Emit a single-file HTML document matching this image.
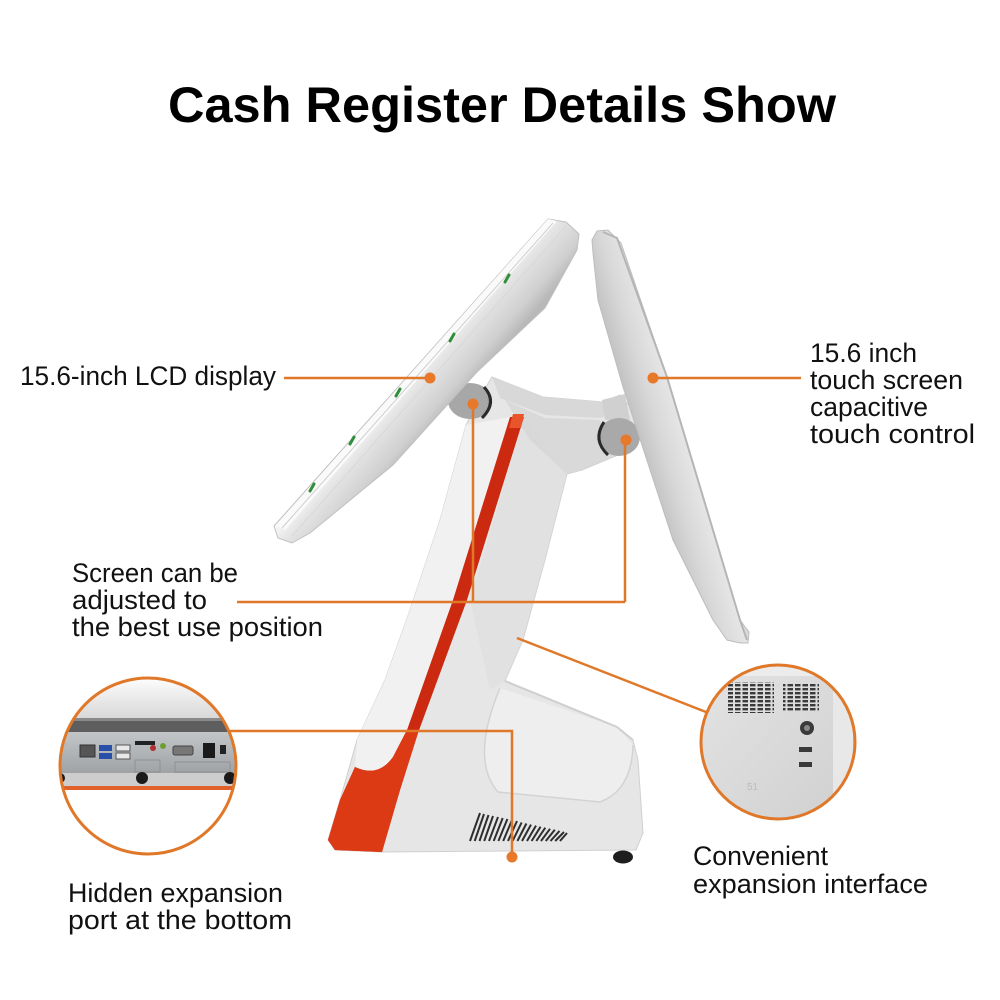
<!DOCTYPE html>
<html><head><meta charset="utf-8"><style>
html,body{margin:0;padding:0;background:#fff;}
svg{display:block;}
text{font-family:"Liberation Sans","DejaVu Sans",sans-serif;fill:#111;}
</style></head><body>
<svg width="1000" height="1000" viewBox="0 0 1000 1000" xmlns="http://www.w3.org/2000/svg">
<defs>
<linearGradient id="gls" gradientUnits="userSpaceOnUse" x1="412" y1="368" x2="455" y2="405">
<stop offset="0" stop-color="#f7f7f7"/><stop offset="0.3" stop-color="#e4e4e4"/><stop offset="0.75" stop-color="#d0d0d0"/><stop offset="1" stop-color="#b8b8b8"/></linearGradient>
<linearGradient id="grs" gradientUnits="userSpaceOnUse" x1="640" y1="440" x2="690" y2="425">
<stop offset="0" stop-color="#c4c4c4"/><stop offset="0.4" stop-color="#d8d8d8"/><stop offset="0.85" stop-color="#e6e6e6"/><stop offset="1" stop-color="#c2c2c2"/></linearGradient>
<linearGradient id="gtop" x1="0" y1="0" x2="0" y2="1"><stop offset="0" stop-color="#ffffff"/><stop offset="1" stop-color="#d6d6d6"/></linearGradient>
<linearGradient id="gpanel" x1="0" y1="0" x2="0" y2="1"><stop offset="0" stop-color="#c3c6c8"/><stop offset="1" stop-color="#9ea2a5"/></linearGradient>
<linearGradient id="gright" x1="0" y1="0" x2="1" y2="1"><stop offset="0" stop-color="#e4e4e4"/><stop offset="1" stop-color="#cfcfcf"/></linearGradient>
<clipPath id="cl"><circle cx="148" cy="766" r="88"/></clipPath>
<clipPath id="cr"><circle cx="778" cy="742" r="77"/></clipPath>
<pattern id="vent" width="7.5" height="4" patternUnits="userSpaceOnUse"><rect x="0" y="0" width="5.5" height="2.4" fill="#3a3a3a"/></pattern>
</defs>

<!-- Title -->
<text x="168" y="122" font-size="50" font-weight="bold" textLength="668" lengthAdjust="spacingAndGlyphs" style="fill:#000">Cash Register Details Show</text>

<!-- ===== Device ===== -->
<path d="M492,377 L543,397 L603,402 L620,395 L640,418 L618,455 L582,470 L567,474 L545,560 L523,640 L505,681 L617,727 L633,740 L638,760 L643,833 L636,850 L382,852 L335,850 L328,840 L340,800 L357,740 L385,680 L410,610 L440,520 L466,425 L478,400 Z" fill="#e6e6e6" stroke="#d0d0d0" stroke-width="1"/>
<path d="M466,425 L510,417 L453,600 L407,730 L393,757 Q378,778 355,767 L357,740 L385,680 L410,610 L440,520 Z" fill="#f1f1f1"/>
<path d="M524,417 L567,474 L545,560 L523,640 L505,681 L490,690 L470,600 Z" fill="#dedede" opacity="0.6"/>
<path d="M500,688 Q470,760 498,792 L600,802 Q632,790 633,745 L617,727 Z" fill="#eeeeee"/>
<path d="M500,688 Q470,760 498,792 L600,802 Q632,790 633,745" fill="none" stroke="#d3d3d3" stroke-width="1.5"/>
<path d="M505,681 L617,727 L633,740" fill="none" stroke="#cfcfcf" stroke-width="2"/>
<path d="M492,377 L543,397 L603,402 L620,395 L625,410 L600,418 L545,415 L500,398 Z" fill="#d8d8d8"/>
<path d="M505,400 L545,418 L600,420 L615,455 L582,470 L567,474 L530,440 Z" fill="#d6d6d6" opacity="0.8"/>

<!-- red stripe + bottom red -->
<path d="M510,417 L524,417 L467,600 L418,733 L400,790 L382,852 L335,850 L328,840 L340,800 L355,767 Q378,778 393,757 L407,730 L453,600 Z" fill="#cc2a10"/>
<path d="M513,414 L524,414 L521,428 L509,428 Z" fill="#e8552a"/>
<path d="M382,852 L335,850 L328,840 L340,800 L355,767 Q378,778 393,757 L407,730 L418,733 L400,790 Z" fill="#dc3a15"/>

<!-- vent -->
<g stroke="#2e2e2e" stroke-width="2">
<line x1="470" y1="841" x2="480" y2="813"/><line x1="474.7" y1="841" x2="484" y2="814"/>
<line x1="479.5" y1="841" x2="488.5" y2="815"/><line x1="484.2" y1="841" x2="493" y2="816"/>
<line x1="489" y1="841" x2="498" y2="817"/><line x1="493.7" y1="841" x2="502.7" y2="818"/>
<line x1="498.4" y1="841" x2="507.4" y2="819"/><line x1="503.2" y1="841" x2="512" y2="820"/>
<line x1="508" y1="841" x2="517" y2="821"/><line x1="512.6" y1="841" x2="521.6" y2="822.5"/>
<line x1="517.4" y1="841" x2="526.4" y2="823.5"/><line x1="522" y1="841" x2="531" y2="824.6"/>
<line x1="527" y1="841" x2="536" y2="825.6"/><line x1="531.6" y1="841" x2="540.6" y2="826.7"/>
<line x1="536.3" y1="841" x2="545.3" y2="827.7"/><line x1="541" y1="841" x2="550" y2="828.8"/>
<line x1="545.8" y1="841" x2="554.8" y2="829.8"/><line x1="550.5" y1="841" x2="559.5" y2="830.9"/>
<line x1="555.2" y1="841" x2="564" y2="832"/><line x1="560" y1="841" x2="567" y2="833"/>
</g>
<ellipse cx="623" cy="857" rx="10" ry="6.5" fill="#1e1e1e"/>

<!-- hinges -->
<ellipse cx="470" cy="401" rx="22" ry="18" fill="#a7a7a7"/>
<path d="M484,387 Q498,402 482,418" fill="none" stroke="#2a2a2a" stroke-width="3"/>
<path d="M602,400 L625,394 L630,420 L605,420 Z" fill="#d0d0d0"/>
<ellipse cx="619" cy="437" rx="21" ry="19" fill="#a9a9a9"/>
<path d="M604,422 Q592,440 608,455" fill="none" stroke="#2a2a2a" stroke-width="3"/>

<!-- left screen -->
<path d="M548,219 L566,222 L579,234 L577,250 L545,308 L477,372 L393,465 L310,533 L292,543 L278,538 L274,526 Z" fill="url(#gls)" stroke="#c0c0c0" stroke-width="1"/>
<path d="M548,219 L557,221 L285,530 L276,525 Z" fill="#fafafa"/>
<line x1="553" y1="223" x2="282" y2="528" stroke="#cfcfcf" stroke-width="1"/>
<line x1="566" y1="226" x2="292" y2="536" stroke="#d8d8d8" stroke-width="1"/>
<g stroke="#2f8f3a" stroke-width="3" stroke-linecap="round">
<line x1="505" y1="282" x2="509" y2="275"/>
<line x1="450" y1="341" x2="454" y2="334"/>
<line x1="396" y1="396" x2="400" y2="389"/>
<line x1="350" y1="444" x2="354" y2="437"/>
<line x1="310" y1="491" x2="314" y2="484"/>
</g>

<!-- right screen -->
<path d="M592,240 L597,231 L608,230 L621,243 L667,377 L740,620 L749,632 L748,643 L740,643 L727,640 L713,620 L673,540 L623,387 L598,300 L593,253 Z" fill="url(#grs)" stroke="#bdbdbd" stroke-width="1"/>
<path d="M603,232 L617,238 L667,377 L740,620 L747,640" fill="none" stroke="#b5b5b5" stroke-width="2"/>

<!-- ===== connectors ===== -->
<g stroke="#e0782a" stroke-width="2.5" fill="none">
<line x1="284" y1="378" x2="430" y2="378"/>
<line x1="653" y1="378" x2="801" y2="378"/>
<polyline points="237,602 625,602"/>
<line x1="473" y1="403" x2="473" y2="602"/>
<line x1="625" y1="440" x2="625" y2="602"/>
<polyline points="230,731 512,731 512,857"/>
<line x1="517" y1="638" x2="706" y2="712"/>
</g>
<g fill="#e8782a">
<circle cx="430" cy="378" r="5.5"/>
<circle cx="653" cy="378" r="5.5"/>
<circle cx="473" cy="404" r="5.5"/>
<circle cx="626" cy="440" r="5.5"/>
<circle cx="512" cy="857" r="5.5"/>
</g>

<!-- ===== left inset ===== -->
<g clip-path="url(#cl)">
<rect x="50" y="670" width="200" height="200" fill="#fff"/>
<rect x="50" y="676" width="200" height="44" fill="url(#gtop)"/>
<rect x="50" y="718" width="200" height="14" fill="#5e5e5e"/>
<rect x="50" y="718" width="200" height="3" fill="#8a8a8a"/>
<rect x="50" y="732" width="200" height="42" fill="url(#gpanel)"/>
<rect x="50" y="773" width="200" height="13" fill="#cdcdcd"/>
<rect x="50" y="786" width="200" height="4" fill="#e0622a"/>
<rect x="80" y="745" width="15" height="12" fill="#555" stroke="#333"/>
<rect x="99" y="745" width="13" height="6" fill="#2a4fa8"/>
<rect x="99" y="753" width="13" height="6" fill="#2a4fa8"/>
<rect x="116" y="745" width="14" height="6" fill="#e8e8e8" stroke="#555"/>
<rect x="116" y="753" width="14" height="6" fill="#e8e8e8" stroke="#555"/>
<rect x="135" y="741" width="20" height="4" fill="#222"/>
<circle cx="153" cy="748" r="3" fill="#b03030"/>
<circle cx="163" cy="746" r="3" fill="#6aa030"/>
<rect x="173" y="746" width="20" height="9" rx="2" fill="#777" stroke="#444"/>
<rect x="203" y="743" width="12" height="15" fill="#1a1a1a"/>
<rect x="220" y="745" width="6" height="9" fill="#222"/>
<rect x="135" y="760" width="25" height="12" fill="none" stroke="#8e9194" stroke-width="1"/>
<rect x="175" y="762" width="55" height="10" fill="none" stroke="#8e9194" stroke-width="1"/>
<circle cx="142" cy="778" r="6" fill="#1a1a1a"/>
<circle cx="230" cy="778" r="6" fill="#1a1a1a"/>
<circle cx="60" cy="778" r="5" fill="#1a1a1a"/>
</g>
<circle cx="148" cy="766" r="88" fill="none" stroke="#e0782a" stroke-width="3"/>

<!-- ===== right inset ===== -->
<g clip-path="url(#cr)">
<rect x="698" y="662" width="160" height="160" fill="url(#gright)"/>
<rect x="698" y="662" width="160" height="14" fill="#ececec"/>
<rect x="728" y="682" width="46" height="31" fill="url(#vent)"/>
<rect x="783" y="683" width="36" height="29" fill="url(#vent)"/>
<circle cx="807" cy="728" r="7" fill="#3a3a3a"/>
<circle cx="807" cy="728" r="3" fill="#888"/>
<rect x="799" y="747" width="13" height="5" fill="#3a3a3a"/>
<rect x="799" y="762" width="13" height="5" fill="#3a3a3a"/>
<rect x="833" y="662" width="20" height="160" fill="#ececec" opacity="0.8"/>
<text x="747" y="790" font-size="10" style="fill:#bbb">51</text>
</g>
<circle cx="778" cy="742" r="77" fill="none" stroke="#e0782a" stroke-width="3"/>

<!-- ===== labels ===== -->
<g font-size="27">
<text x="20" y="385" textLength="256" lengthAdjust="spacingAndGlyphs">15.6-inch LCD display</text>
<text x="810" y="362" textLength="107" lengthAdjust="spacingAndGlyphs">15.6 inch</text>
<text x="810" y="389" textLength="153" lengthAdjust="spacingAndGlyphs">touch screen</text>
<text x="810" y="416" textLength="118" lengthAdjust="spacingAndGlyphs">capacitive</text>
<text x="810" y="443" textLength="165" lengthAdjust="spacingAndGlyphs">touch control</text>
<text x="72" y="582" textLength="166" lengthAdjust="spacingAndGlyphs">Screen can be</text>
<text x="72" y="609" textLength="135" lengthAdjust="spacingAndGlyphs">adjusted to</text>
<text x="72" y="636" textLength="251" lengthAdjust="spacingAndGlyphs">the best use position</text>
<text x="68" y="902" textLength="215" lengthAdjust="spacingAndGlyphs">Hidden expansion</text>
<text x="68" y="929" textLength="224" lengthAdjust="spacingAndGlyphs">port at the bottom</text>
<text x="693" y="865" textLength="135" lengthAdjust="spacingAndGlyphs">Convenient</text>
<text x="693" y="893" textLength="235" lengthAdjust="spacingAndGlyphs">expansion interface</text>
</g>
</svg>
</body></html>
